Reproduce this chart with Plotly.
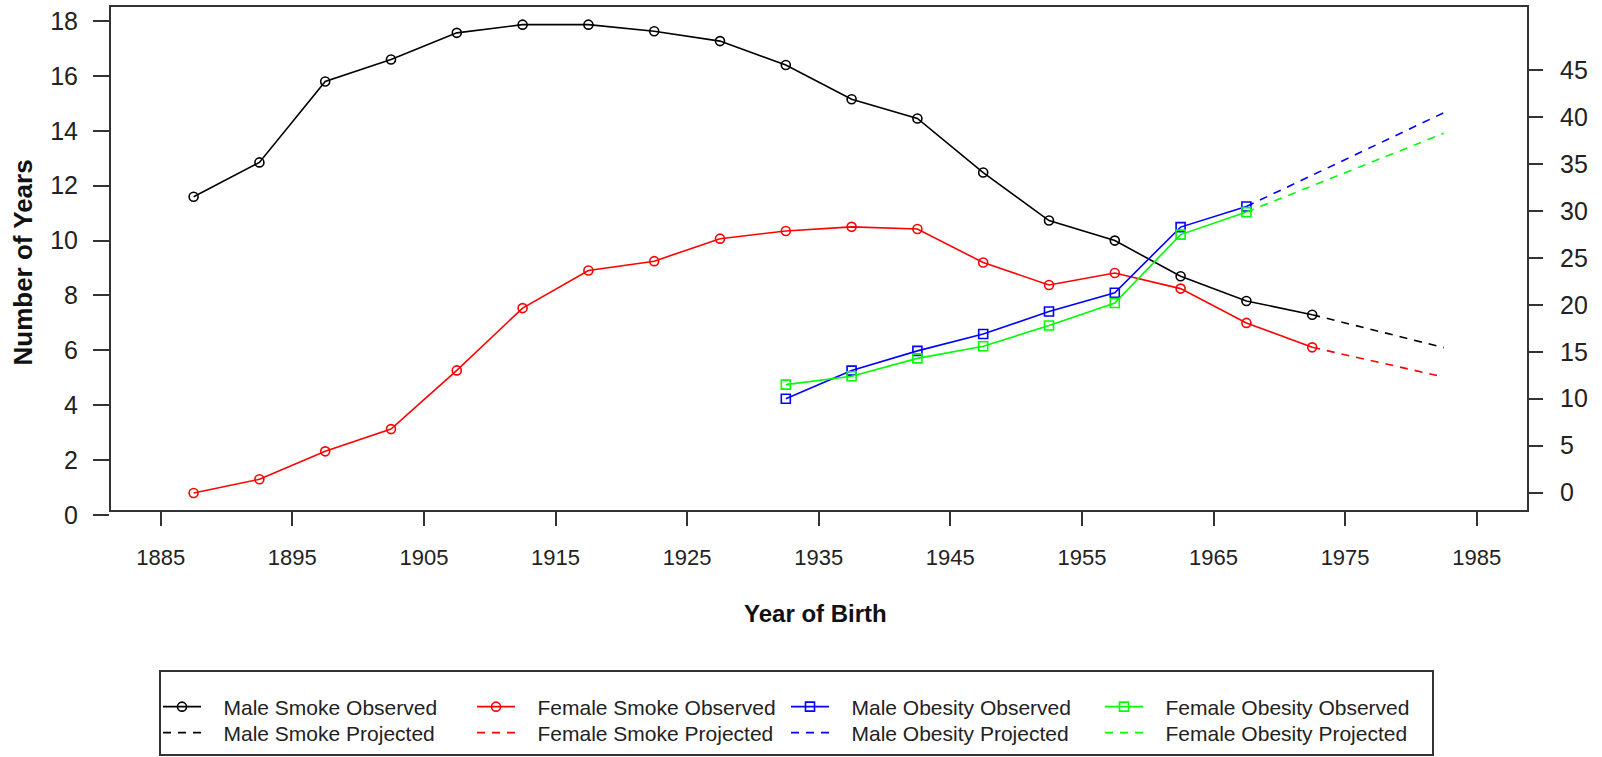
import plotly.graph_objects as go

# ---- data ----
smoke_years = [1887.5, 1892.5, 1897.5, 1902.5, 1907.5, 1912.5, 1917.5, 1922.5, 1927.5,
               1932.5, 1937.5, 1942.5, 1947.5, 1952.5, 1957.5, 1962.5, 1967.5, 1972.5]
male_smoke_obs = [11.6, 12.85, 15.8, 16.6, 17.57, 17.87, 17.87, 17.63, 17.27,
                  16.4, 15.15, 14.45, 12.48, 10.73, 10.0, 8.7, 7.8, 7.3]
female_smoke_obs = [0.8, 1.3, 2.32, 3.13, 5.27, 7.54, 8.91, 9.25, 10.07,
                    10.35, 10.5, 10.42, 9.2, 8.38, 8.82, 8.25, 7.0, 6.11]
smoke_proj_years = [1972.5, 1982.5]
male_smoke_proj = [7.3, 6.1]
female_smoke_proj = [6.11, 5.03]

obesity_years = [1932.5, 1937.5, 1942.5, 1947.5, 1952.5, 1957.5, 1962.5, 1967.5]
male_obesity_obs = [10.0, 13.0, 15.1, 16.9, 19.3, 21.3, 28.3, 30.5]
female_obesity_obs = [11.5, 12.4, 14.3, 15.6, 17.8, 20.2, 27.5, 29.9]
obesity_proj_years = [1967.5, 1982.5]
male_obesity_proj = [30.5, 40.5]
female_obesity_proj = [29.9, 38.3]

x_ticks = list(range(1885, 1986, 10))
left_ticks = list(range(0, 19, 2))
right_ticks = list(range(0, 46, 5))

FONT = "Liberation Sans, Arial, Helvetica, sans-serif"
DASH = "8px,7px"
LW = 1.6
PAD = "\u00a0\u00a0\u00a0"

fig = go.Figure()

def obs(x, y, name, color, symbol, axis):
    fig.add_trace(go.Scatter(
        x=x, y=y, name=PAD + name, mode="lines+markers", yaxis=axis, legend="legend",
        line=dict(color=color, width=LW),
        marker=dict(symbol=symbol, size=9, color=color, line=dict(color=color, width=1.6))))

def proj(x, y, name, color, axis):
    fig.add_trace(go.Scatter(
        x=x, y=y, name=PAD + name, mode="lines", yaxis=axis, legend="legend2",
        line=dict(color=color, width=LW, dash=DASH)))

obs(smoke_years, male_smoke_obs, "Male Smoke Observed", "#000000", "circle-open", "y")
obs(smoke_years, female_smoke_obs, "Female Smoke Observed", "#FF0000", "circle-open", "y")
obs(obesity_years, male_obesity_obs, "Male Obesity Observed", "#0000FF", "square-open", "y2")
obs(obesity_years, female_obesity_obs, "Female Obesity Observed", "#00FF00", "square-open", "y2")
proj(smoke_proj_years, male_smoke_proj, "Male Smoke Projected", "#000000", "y")
proj(smoke_proj_years, female_smoke_proj, "Female Smoke Projected", "#FF0000", "y")
proj(obesity_proj_years, male_obesity_proj, "Male Obesity Projected", "#0000FF", "y2")
proj(obesity_proj_years, female_obesity_proj, "Female Obesity Projected", "#00FF00", "y2")

W, H = 1602, 757
L, R, T, B = 110, 74, 6, 240
plot_w = W - L - R
plot_h = H - T - B
frame_bottom = 511
frame_y0 = (H - B - frame_bottom) / plot_h

def px_x(px):
    return (px - L) / plot_w

def px_y(py):
    return (H - B - py) / plot_h

legend_common = dict(
    orientation="h", xanchor="left", yanchor="middle",
    entrywidth=261, entrywidthmode="pixels",
    borderwidth=0, bgcolor="rgba(0,0,0,0)",
    font=dict(family=FONT, size=21, color="#222222"),
    itemwidth=38,
)

fig.update_layout(
    width=W, height=H,
    margin=dict(l=L, r=R, t=T, b=B, pad=0, autoexpand=False),
    paper_bgcolor="white", plot_bgcolor="white",
    font=dict(family=FONT, size=22, color="#222222"),
    showlegend=True,
    legend=dict(x=px_x(158), y=px_y(707), **legend_common),
    legend2=dict(x=px_x(158), y=px_y(733), **legend_common),
    xaxis=dict(
        range=[1881.147, 1988.898], anchor="free", position=frame_y0,
        tickmode="array", tickvals=x_ticks, ticktext=[str(v) for v in x_ticks],
        ticks="outside", ticklen=14, tickwidth=2, tickcolor="#333333",
        showgrid=False, zeroline=False, showline=False,
        ticklabelstandoff=13, tickfont=dict(size=22),
    ),
    yaxis=dict(
        range=[-0.073, 18.549],
        tickmode="array", tickvals=left_ticks,
        ticks="outside", ticklen=16, tickwidth=2, tickcolor="#333333",
        showgrid=False, zeroline=False, showline=False,
        ticklabelstandoff=10, tickfont=dict(size=25),
    ),
    yaxis2=dict(
        range=[-2.612, 51.876], overlaying="y", side="right", anchor="x",
        tickmode="array", tickvals=right_ticks,
        ticks="outside", ticklen=14, tickwidth=2, tickcolor="#333333",
        showgrid=False, zeroline=False, showline=False,
        ticklabelstandoff=12, tickfont=dict(size=25),
    ),
    shapes=[
        dict(type="rect", xref="paper", yref="paper", x0=0, x1=1, y0=frame_y0, y1=1,
             line=dict(color="#333333", width=2), fillcolor="rgba(0,0,0,0)", layer="above"),
        dict(type="rect", xref="paper", yref="paper",
             x0=px_x(160), x1=px_x(1433), y0=px_y(755), y1=px_y(671),
             line=dict(color="#333333", width=2), fillcolor="rgba(0,0,0,0)", layer="above"),
    ],
    annotations=[
        dict(text="<b>Number of Years</b>", xref="paper", yref="paper",
             x=px_x(22.5), y=px_y(263),
             xanchor="center", yanchor="middle", textangle=-90, showarrow=False,
             font=dict(family=FONT, size=26, color="#111111")),
        dict(text="<b>Year of Birth</b>", xref="paper", yref="paper",
             x=px_x(815), y=px_y(613),
             xanchor="center", yanchor="middle", showarrow=False,
             font=dict(family=FONT, size=24, color="#111111")),
    ],
)

fig.write_html("out.html", config={"displayModeBar": False},
               post_script="document.body.style.margin='0px';")
